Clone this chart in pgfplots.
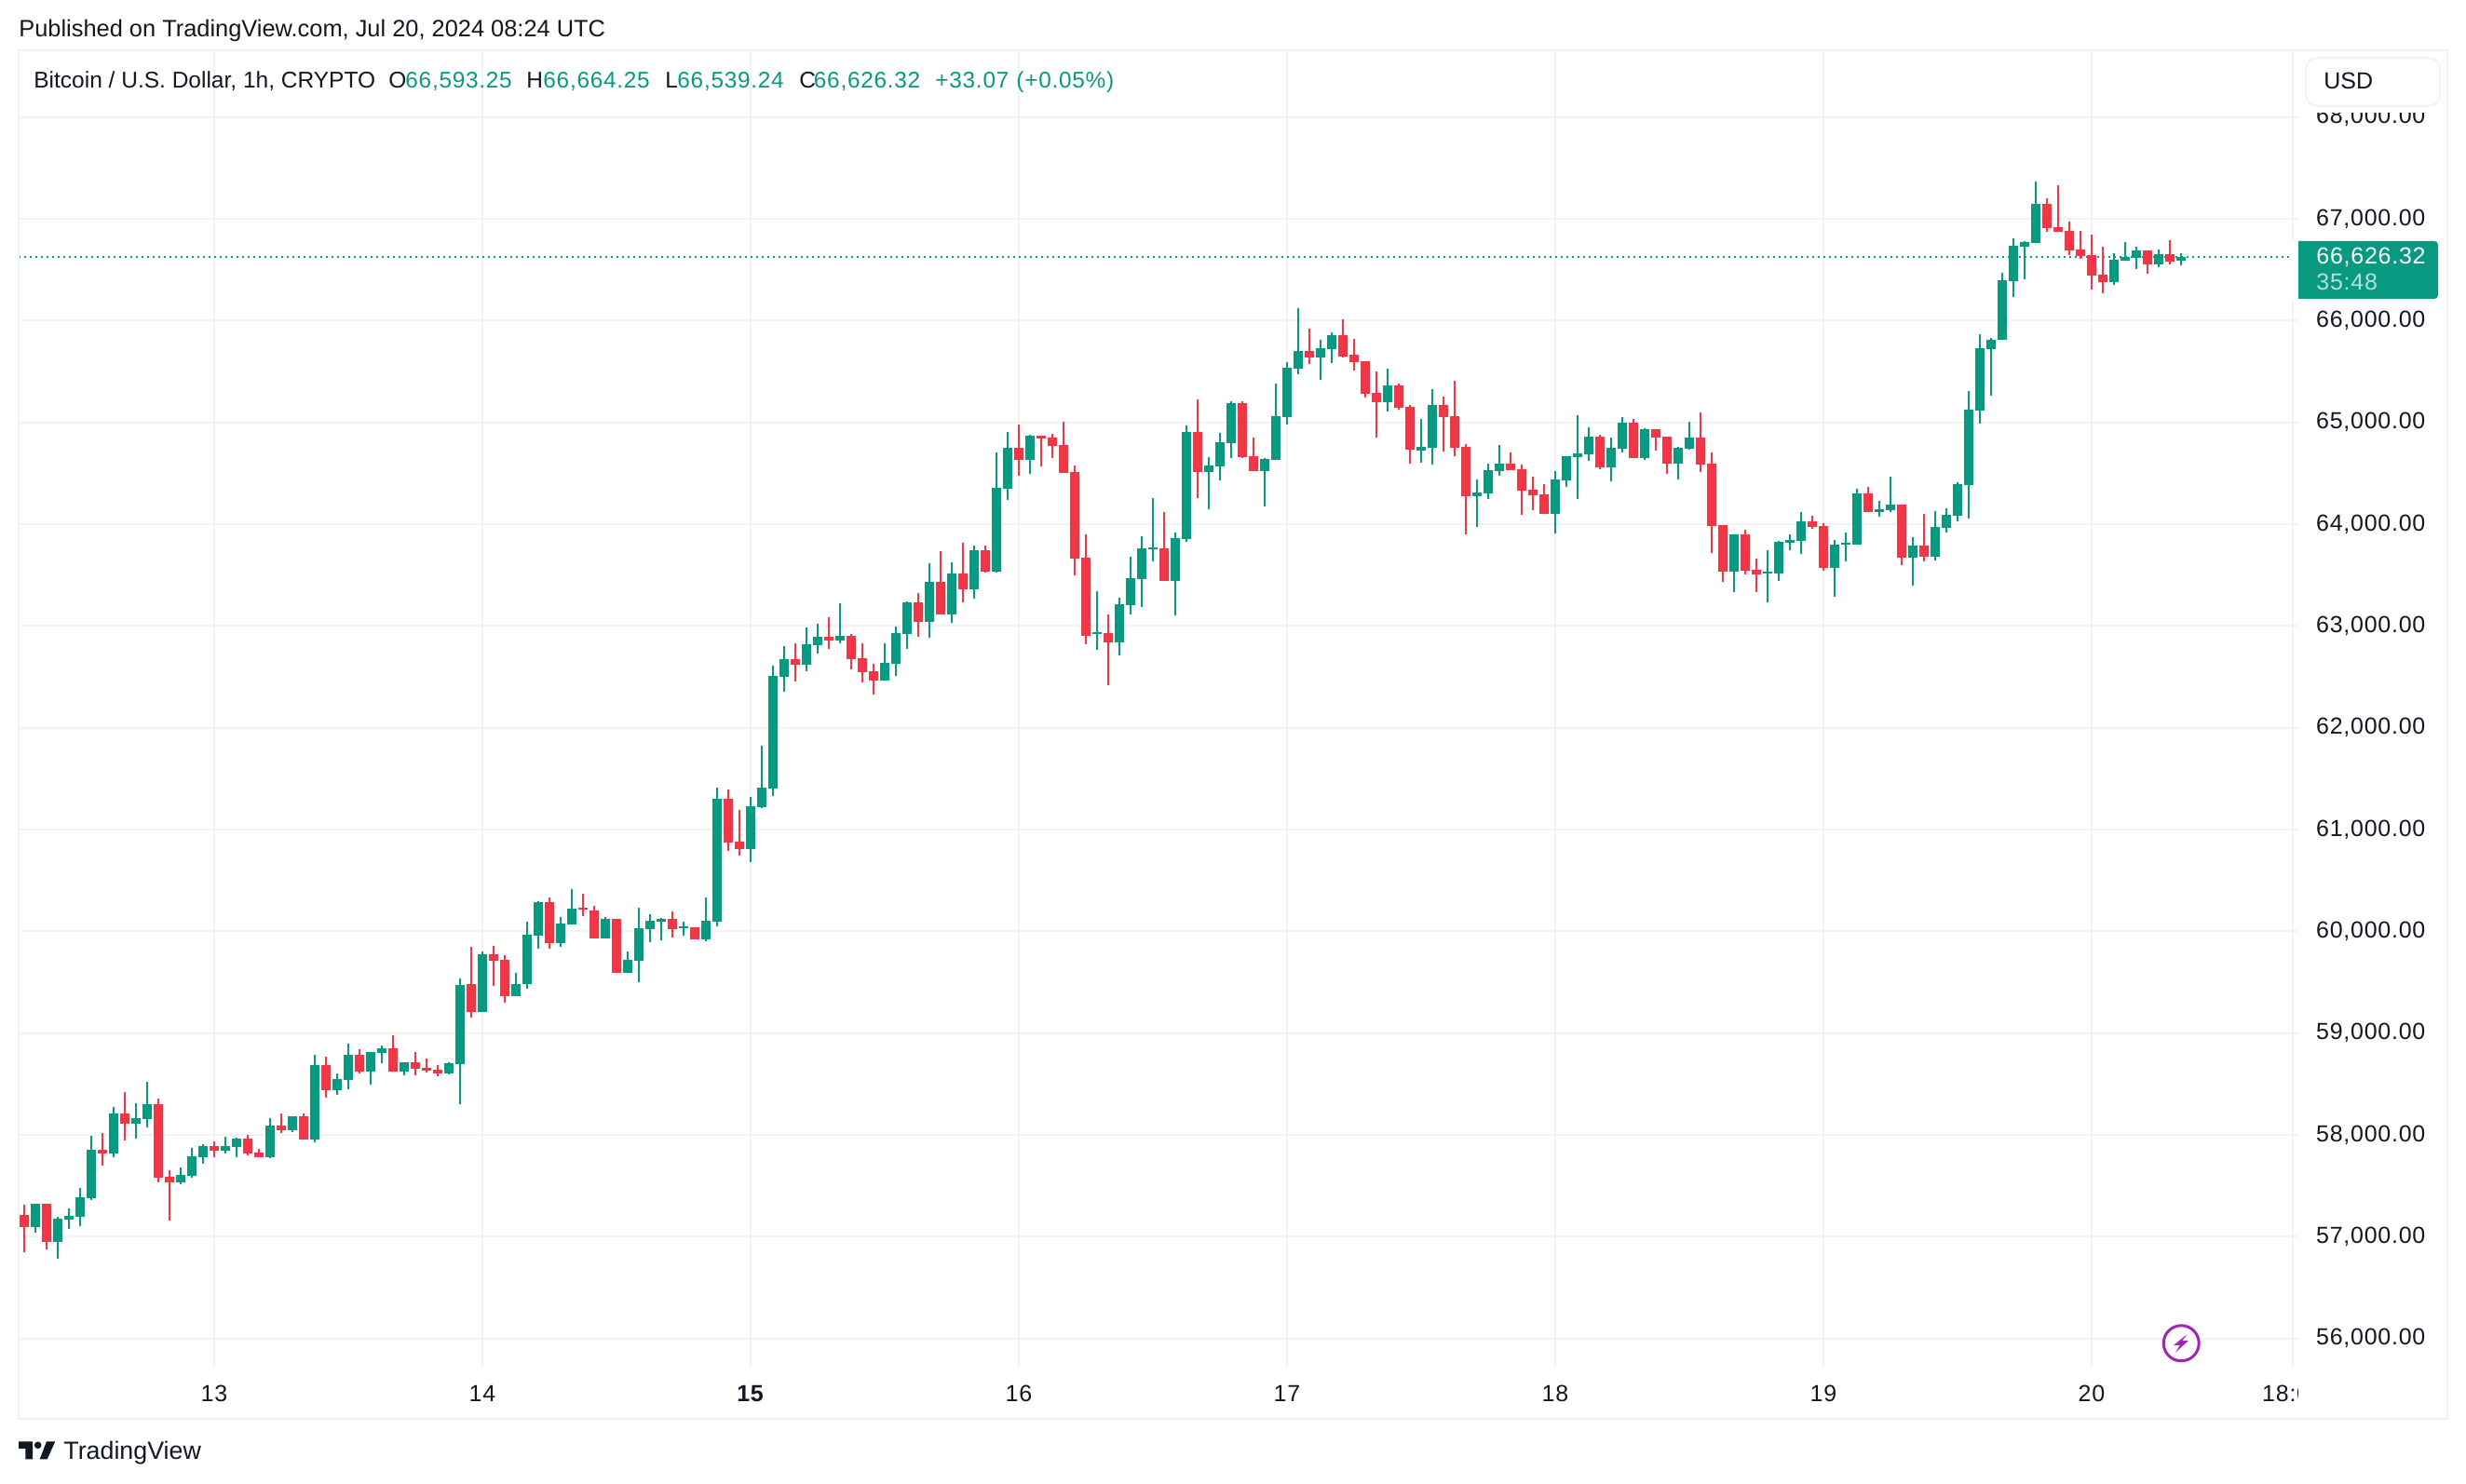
\documentclass[border=0pt]{standalone}
\usepackage{fontspec}
\usepackage{pgfplots}
\usepackage{pgfplotstable}
\pgfplotsset{compat=1.18}
\setmainfont{Liberation Sans}
\newfontfamily\tickfont[LetterSpace=3.0]{Liberation Sans}

\definecolor{upc}{HTML}{089981}
\definecolor{downc}{HTML}{F23645}
\definecolor{gridc}{HTML}{F2F3F5}
\definecolor{txt}{HTML}{131722}
\definecolor{bolt}{HTML}{9C27B0}

% hourly candles, h = hours since Jul 13 00:00
\pgfplotstableread{
h o hi lo c
-16 57091 57320 57037 57320
-14 56945 57192 56780 57174
-13 57165 57274 57073 57201
-12 57192 57476 57101 57384
-11 57375 57988 57357 57851
-9 57814 58271 57777 58207
-7 58107 58308 57960 58162
-6 58153 58518 58070 58299
-3 57531 57677 57512 57604
-2 57595 57869 57576 57787
-1 57777 57906 57713 57887
1 57842 57979 57814 57887
2 57878 57970 57777 57960
5 57777 58162 57768 58088
7 58043 58180 58024 58180
9 57951 58784 57924 58683
11 58436 58601 58390 58546
12 58537 58893 58445 58784
14 58619 58811 58491 58811
15 58802 58875 58701 58848
17 58619 58710 58582 58710
21 58601 58710 58592 58701
22 58692 59534 58299 59470
24 59204 59799 59204 59772
27 59360 59589 59360 59479
28 59478 60092 59433 59963
29 59954 60293 59826 60284
31 59881 60137 59844 60073
32 60064 60412 60064 60220
35 59927 60137 59927 60119
37 59588 59799 59588 59716
38 59707 60229 59497 60027
39 60018 60165 59890 60101
40 60092 60128 59908 60119
42 60027 60092 59954 60046
44 59918 60329 59899 60101
45 60092 61409 60046 61299
48 60805 61318 60677 61226
49 61217 61821 61208 61409
50 61400 62608 61327 62507
51 62498 62800 62352 62672
53 62617 62983 62553 62818
54 62809 63020 62727 62891
56 62855 63227 62827 62901
60 62461 62827 62461 62635
61 62626 62992 62507 62928
62 62918 63245 62773 63236
64 63036 63618 62882 63436
66 63109 63627 63027 63518
68 63364 63791 63273 63745
70 63535 64702 63526 64356
71 64347 64903 64237 64748
73 64629 64876 64492 64866
79 62924 63343 62769 62942
81 62842 63280 62714 63216
82 63207 63681 63115 63471
83 63462 63881 63188 63763
84 63754 64255 63635 63772
86 63444 63918 63106 63863
87 63854 64967 63827 64903
89 64511 64657 64146 64575
90 64565 64894 64429 64803
91 64793 65204 64648 65186
94 64520 64648 64173 64638
95 64629 65377 64629 65058
96 65055 65595 64982 65540
97 65531 66125 65476 65705
99 65640 65814 65421 65732
100 65723 65888 65586 65860
105 65201 65531 65110 65366
108 64720 65031 64602 64757
109 64748 65329 64584 65174
113 64275 64439 63973 64311
114 64302 64595 64247 64531
115 64522 64778 64476 64595
120 64101 64522 63908 64439
121 64430 64668 64366 64668
122 64659 65071 64247 64695
123 64686 64952 64622 64860
125 64558 64851 64421 64750
126 64741 65052 64705 64997
128 64650 64942 64631 64933
131 64595 64759 64439 64750
132 64741 65006 64732 64851
136 63533 63899 63332 63899
139 63515 63744 63231 63533
140 63515 63835 63442 63826
141 63817 63899 63744 63844
142 63835 64119 63707 64027
145 63570 63844 63286 63799
146 63799 63918 63634 63817
147 63799 64348 63799 64302
149 64119 64229 64073 64146
150 64137 64467 64119 64192
152 63671 63872 63396 63790
154 63680 64128 63643 63973
155 63963 64156 63918 64092
156 64082 64412 64027 64393
157 64384 65308 64055 65125
158 65116 65867 64988 65729
159 65720 65830 65263 65812
160 65812 66470 65812 66397
161 66388 66809 66233 66736
162 66727 66782 66406 66772
163 66763 67367 66763 67148
170 66379 66663 66352 66599
171 66589 66772 66589 66626
172 66617 66727 66507 66690
174 66553 66699 66525 66654
176 66593.25 66664.25 66539.24 66626.32
}\uptable

\pgfplotstableread{
h o hi lo c
-17 57210 57311 56845 57091
-15 57320 57320 56872 56945
-10 57851 58015 57695 57814
-8 58207 58418 57942 58107
-5 58299 58354 57531 57576
-4 57585 57649 57155 57531
0 57887 57933 57777 57842
3 57960 57997 57796 57814
4 57823 57860 57777 57777
6 58088 58207 58015 58043
8 58180 58207 57951 57951
10 58683 58765 58363 58436
13 58784 58839 58601 58619
16 58848 58976 58619 58619
18 58710 58811 58582 58646
19 58656 58747 58610 58628
20 58637 58683 58573 58601
23 59479 59845 59150 59204
25 59772 59854 59461 59708
26 59717 59762 59296 59360
30 60284 60329 59826 59881
33 60229 60366 60146 60210
34 60201 60247 59927 59927
36 60119 60119 59588 59588
41 60119 60192 59936 60018
43 60037 60037 59918 59918
46 61299 61391 60787 60869
47 60878 61190 60741 60805
52 62672 62827 62452 62617
55 62891 63084 62772 62855
57 62901 62919 62571 62672
58 62681 62827 62443 62544
59 62553 62626 62324 62461
63 63236 63327 62891 63036
65 63436 63736 63109 63109
67 63518 63818 63236 63364
69 63745 63791 63527 63536
72 64748 64976 64474 64629
74 64866 64866 64565 64839
75 64848 64885 64648 64766
76 64775 65003 64502 64502
77 64511 64575 63498 63663
78 63672 63900 62824 62906
80 62933 63115 62422 62842
85 63763 64119 63444 63444
88 64903 65222 64255 64511
92 65186 65204 64648 64657
93 64666 64848 64520 64520
98 65705 65924 65576 65640
101 65860 66016 65640 65650
102 65668 65824 65512 65595
103 65604 65604 65247 65284
104 65293 65503 64848 65201
106 65366 65384 65128 65146
107 65156 65174 64593 64730
110 65174 65256 64711 65055
111 65064 65412 64666 64748
112 64757 64784 63900 64274
116 64595 64705 64531 64531
117 64540 64586 64092 64329
118 64339 64467 64137 64284
119 64293 64393 64101 64101
124 64860 64878 64540 64558
127 64997 65034 64650 64650
129 64933 64933 64723 64851
130 64860 64860 64494 64595
133 64851 65098 64512 64586
134 64595 64705 63716 63982
135 63991 63991 63433 63533
137 63899 63945 63506 63543
138 63552 63661 63332 63506
143 64027 64082 63954 63973
144 63982 64009 63543 63570
148 64302 64366 64119 64119
151 64192 64192 63597 63671
153 63790 64101 63634 63680
164 67148 67203 66873 66910
165 66919 67331 66873 66873
166 66882 66974 66644 66690
167 66699 66882 66608 66635
168 66644 66846 66306 66443
169 66452 66727 66269 66379
173 66690 66690 66461 66553
175 66654 66791 66553 66580
}\downtable

\pgfplotsset{
  wick/.style={draw=none, mark=none, forget plot,
    error bars/.cd, y dir=plus, y explicit, error mark=none,
    error bar style={draw=#1, line width=1pt}},
  body/.style={draw=none, mark=none, forget plot,
    error bars/.cd, y dir=plus, y explicit, error mark=none,
    error bar style={draw=#1, line width=5pt}},
}

\newcommand{\hdr}[1]{\fontsize{#1}{#1}\selectfont}

\begin{document}
\begin{tikzpicture}
  \path[use as bounding box, fill=white] (0,0) rectangle (1324pt,797pt);
  \begin{axis}[
      at={(10pt,63pt)}, anchor=south west,
      scale only axis, width=1221pt, height=707pt,
      xmin=-17.5, xmax=186, ymin=55723, ymax=68656,
      axis line style={draw=none},
      grid=major,
      grid style={gridc, line width=1pt},
      xtick={0,24,48,72,96,120,144,168,186},
      xticklabels={13,14,\textbf{15},16,17,18,19,20,18:00},
      ytick={56000,57000,...,68000},
      scaled y ticks=false,
      ytick pos=right, yticklabel pos=right,
      xtick pos=bottom,
      tick align=outside,
      major tick length=3pt,
      xtick style={draw=none},
      ytick style={gridc, line width=1pt},
      tick label style={font=\tickfont\fontsize{12.5}{14}\selectfont, text=txt, inner sep=0pt},
      xticklabel style={anchor=north, yshift=-7pt},
      yticklabel style={anchor=west, xshift=9.35pt,
        /pgf/number format/.cd, fixed, fixed zerofill, precision=2,
        1000 sep={,}, assume math mode=true},
    ]
    % last price line
    \addplot[upc, line width=1pt, dash pattern=on 1pt off 2pt, forget plot]
      coordinates {(-17.5,66626.32) (186,66626.32)};
    \addplot[wick=upc] table[x=h, y=lo, y error plus expr=\thisrow{hi}-\thisrow{lo}] {\uptable};
    \addplot[wick=downc] table[x=h, y=lo, y error plus expr=\thisrow{hi}-\thisrow{lo}] {\downtable};
    \addplot[body=upc] table[x=h, y=o, y error plus expr=\thisrow{c}-\thisrow{o}] {\uptable};
    \addplot[body=downc] table[x=h, y=c, y error plus expr=\thisrow{o}-\thisrow{c}] {\downtable};
  \end{axis}

  % page furniture, in reference pixels from the top left
  \begin{scope}[x=0.5pt, y=-0.5pt, shift={(0pt,797pt)}]
    \fill[white] (2468,1469) rectangle (2626,1522);
    \fill[white] (2470,56) rectangle (2626,121);
    \draw[gridc, line width=1pt] (20,54) rectangle (2628,1524);

    \draw[gridc, line width=1pt, fill=white, rounded corners=6pt] (2476,62) rectangle (2620,114);
    \node[anchor=base west, inner sep=0pt, text=txt] at (2495,96) {\hdr{12.5}USD};

    \fill[upc, rounded corners=2pt] (2460,259) rectangle (2618,321);
    \fill[white] (2460,258) rectangle (2468,322);
    \node[anchor=base west, inner sep=0pt, text=white] at (2487,284) {\tickfont\hdr{12.5}66,626.32};
    \node[anchor=base west, inner sep=0pt, text=white!70!upc] at (2487,312) {\tickfont\hdr{12.5}35:48};

    \node[anchor=base west, inner sep=0pt, text=txt] at (20,40) {\hdr{12.7}Published on TradingView.com, Jul 20, 2024 08:24 UTC};
    \node[anchor=base west, inner sep=0pt, text=txt] at (36,95) {\hdr{12.25}Bitcoin / U.S. Dollar, 1h, CRYPTO};
    \node[anchor=base west, inner sep=0pt, text=txt] at (417,95) {\hdr{12.25}O};
    \node[anchor=base west, inner sep=0pt, text=upc] at (435,95) {\tickfont\hdr{12.2}66,593.25};
    \node[anchor=base west, inner sep=0pt, text=txt] at (565,95) {\hdr{12.25}H};
    \node[anchor=base west, inner sep=0pt, text=upc] at (583,95) {\tickfont\hdr{12.2}66,664.25};
    \node[anchor=base west, inner sep=0pt, text=txt] at (714,95) {\hdr{12.25}L};
    \node[anchor=base west, inner sep=0pt, text=upc] at (727,95) {\tickfont\hdr{12.2}66,539.24};
    \node[anchor=base west, inner sep=0pt, text=txt] at (858,95) {\hdr{12.25}C};
    \node[anchor=base west, inner sep=0pt, text=upc] at (873.5,95) {\tickfont\hdr{12.2}66,626.32};
    \node[anchor=base west, inner sep=0pt, text=upc] at (1004,95) {\tickfont\hdr{12.2}+33.07};
    \node[anchor=base west, inner sep=0pt, text=upc] at (1091,95) {\tickfont\hdr{12.2}(+0.05\%)};

    % bolt icon
    \draw[bolt, line width=1.5pt, fill=white] (2342.2,1442.8) circle (19);
    \fill[bolt] (2348.3,1433.3) -- (2334,1445) -- (2340.7,1445) -- (2336,1452.7)
      -- (2350,1440) -- (2343.3,1440) -- cycle;

    % logo
    \fill[txt] (20,1548.3) -- (35,1548.3) -- (35,1567.3) -- (27.3,1567.3)
      -- (27.3,1556) -- (20,1556) -- cycle;
    \fill[txt] (40.7,1552.3) circle (3.8);
    \fill[txt] (59.3,1548.3) -- (50,1548.3) -- (42.7,1567.3) -- (50.7,1567.3) -- cycle;
    \node[anchor=base west, inner sep=0pt, text=txt] at (68,1568) {\hdr{13.4}TradingView};
  \end{scope}
\end{tikzpicture}
\end{document}
